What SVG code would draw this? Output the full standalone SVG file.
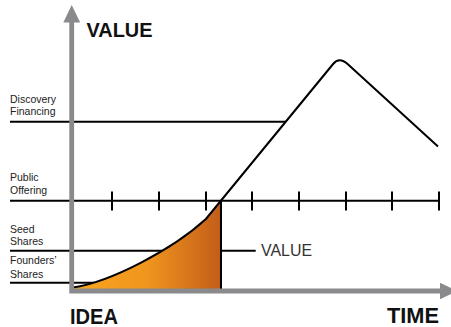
<svg xmlns="http://www.w3.org/2000/svg" width="451" height="327" viewBox="0 0 451 327">
  <style>
    .lbl { font-family: "Liberation Sans", Arial, sans-serif; font-size: 10.5px; fill: #222; }
    .big { font-family: "Liberation Sans", Arial, sans-serif; font-weight: bold; fill: #111; }
    .ln { stroke: #000; stroke-width: 2; fill: none; }
    .axis { stroke: #8a8a8c; stroke-width: 4.8; fill: none; }
    .head { fill: #8a8a8c; }
  </style>
  <defs>
    <linearGradient id="orange" gradientUnits="userSpaceOnUse" x1="73" y1="0" x2="221" y2="0">
      <stop offset="0" stop-color="#F8A51F"/>
      <stop offset="0.5" stop-color="#F0951E"/>
      <stop offset="1" stop-color="#C25D1A"/>
    </linearGradient>
  </defs>
  <rect width="451" height="327" fill="#fff"/>

  <g id="levels">
    <line class="ln" x1="10" y1="121.7" x2="286" y2="121.7"/>
    <line class="ln" x1="10" y1="200.7" x2="439" y2="200.7"/>
    <line class="ln" x1="10" y1="250.7" x2="255.7" y2="250.7"/>
    <line class="ln" x1="10" y1="282.7" x2="94" y2="282.7"/>
  </g>

  <g id="ticks" class="ln">
    <line x1="112" y1="191.5" x2="112" y2="210.5"/>
    <line x1="159" y1="191.5" x2="159" y2="210.5"/>
    <line x1="206" y1="191.5" x2="206" y2="210.5"/>
    <line x1="252" y1="191.5" x2="252" y2="210.5"/>
    <line x1="299" y1="191.5" x2="299" y2="210.5"/>
    <line x1="346" y1="191.5" x2="346" y2="210.5"/>
    <line x1="392" y1="191.5" x2="392" y2="210.5"/>
    <line x1="439" y1="191.5" x2="439" y2="210.5"/>
  </g>

  <g id="value-area">
    <path d="M73,288 C110,282 172,250 205.9,219 L221,201 L221,289 L73,289 Z" fill="url(#orange)"/>
    <line class="ln" x1="221" y1="201" x2="221" y2="289"/>
  </g>

  <g id="value-curve">
    <path class="ln" stroke-linejoin="round" d="M73,287.5 C110,282 172,250 205.9,219 L333.1,64 Q339.2,56.4 347.6,64 L438,146.5"/>
  </g>

  <g id="axes">
    <path class="axis" stroke-linejoin="miter" d="M71.7,22 V291 H441"/>
    <polygon class="head" points="63.3,22.5 71.7,5 80.2,22.5"/>
    <polygon class="head" points="440,282.7 457,291 440,299.3"/>
  </g>

  <g id="labels">
    <text class="lbl" x="10" y="103">Discovery</text>
    <text class="lbl" x="10" y="115">Financing</text>
    <text class="lbl" x="10" y="181">Public</text>
    <text class="lbl" x="10" y="193.5">Offering</text>
    <text class="lbl" x="10" y="232.7">Seed</text>
    <text class="lbl" x="10" y="245">Shares</text>
    <text class="lbl" x="10" y="264.4">Founders’</text>
    <text class="lbl" x="10" y="277.5">Shares</text>
    <text x="261" y="256" font-family="Liberation Sans, Arial, sans-serif" font-size="17" fill="#333" textLength="51" lengthAdjust="spacingAndGlyphs">VALUE</text>
    <text class="big" x="86.5" y="37.3" font-size="20" textLength="66" lengthAdjust="spacingAndGlyphs">VALUE</text>
    <text class="big" x="70" y="323.5" font-size="22" textLength="48" lengthAdjust="spacingAndGlyphs">IDEA</text>
    <text class="big" x="387" y="323.3" font-size="22" textLength="52" lengthAdjust="spacingAndGlyphs">TIME</text>
  </g>
</svg>
